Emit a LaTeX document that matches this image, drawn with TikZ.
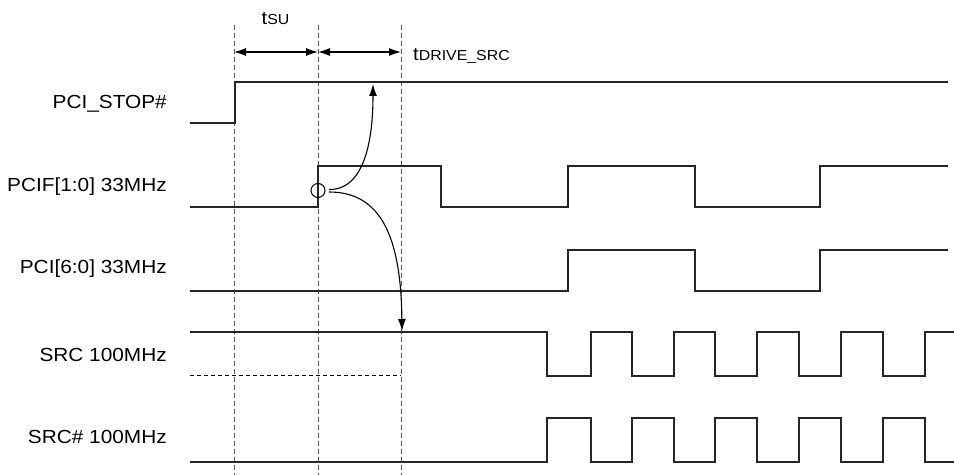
\documentclass[tikz,border=0pt]{standalone}
\usepackage{fontspec}
\setmainfont{Liberation Sans}
\usetikzlibrary{arrows.meta}
\newcommand{\wide}[1]{\scalebox{1.1}[1]{#1}}
\newcommand{\tsub}[1]{\wide{t{\fontsize{14.5}{16}\selectfont #1}}}

\tikzset{
  sig/.style={line width=1.1bp, black!85},
  guide/.style={line width=1bp, black!65, dash pattern=on 5bp off 3bp},
  lbl/.style={anchor=base east, inner sep=0pt, font=\fontsize{19}{21}\selectfont},
  tlbl/.style={anchor=base west, inner sep=0pt, font=\fontsize{18.5}{20}\selectfont},
  span/.style={line width=1.1bp, {Latex[length=12bp,width=8bp]}-{Latex[length=12bp,width=8bp]}},
  hint/.style={line width=1.1bp, -{Latex[length=12bp,width=8bp]}},
}

\begin{document}
\begin{tikzpicture}[x=1bp,y=-1bp]
	\useasboundingbox (0,0) rectangle (954,475);

	% signal names
	\node [lbl](STOP) at (167,109) {\wide{PCI\_STOP\#}};
	\node [lbl](PCIF) at (167,191.5) {\wide{PCIF[1:0] 33MHz}};
	\node [lbl](PCI) at (167,274) {\wide{PCI[6:0] 33MHz}};
	\node [lbl](SRC) at (167,361.5) {\wide{SRC 100MHz}};
	\node [lbl](SRCN) at (167,443) {\wide{SRC\# 100MHz}};

	% timing names
	\node [tlbl](TSU) at (261.5,25) {\tsub{SU}};
	\node [tlbl](TDRV) at (413,61) {\tsub{DRIVE\_SRC}};

	% guide lines
	\coordinate (G1) at (234,25);
	\coordinate (G2) at (318,25);
	\coordinate (G3) at (401,25);
	\draw [guide] (G1) -- (234,475);
	\draw [guide] (G2) -- (318,475);
	\draw [guide] (G3) -- (401,475);

	% waveforms
	\draw [sig] (190,123) -- (235,123) -- (235,82) -- (948,82);
	\draw [sig] (190,207) -- (318,207) -- (318,166) -- (441,166) -- (441,207)
		-- (568,207) -- (568,166) -- (695,166) -- (695,207) -- (820,207) -- (820,166) -- (948,166);
	\draw [sig] (190,291) -- (568,291) -- (568,250) -- (695,250) -- (695,291)
		-- (820,291) -- (820,250) -- (948,250);
	\draw [sig] (190,332) -- (547,332) -- (547,376) -- (591,376) -- (591,332)
		-- (632,332) -- (632,376) -- (674,376) -- (674,332) -- (715,332) -- (715,376)
		-- (757,376) -- (757,332) -- (799,332) -- (799,376) -- (841,376) -- (841,332)
		-- (883,332) -- (883,376) -- (925,376) -- (925,332) -- (954,332);
	\draw [sig] (190,462) -- (547,462) -- (547,418) -- (591,418) -- (591,462)
		-- (632,462) -- (632,418) -- (674,418) -- (674,462) -- (715,462) -- (715,418)
		-- (757,418) -- (757,462) -- (799,462) -- (799,418) -- (841,418) -- (841,462)
		-- (883,462) -- (883,418) -- (925,418) -- (925,462) -- (954,462);
	\draw [line width=1bp, dash pattern=on 4bp off 3bp] (190,376) -- (401,376);

	% interval arrows
	\coordinate (A1) at (234,52);
	\coordinate (A2) at (318,52);
	\coordinate (A3) at (401,52);
	\draw [span] (A1) -- (A2);
	\draw [span] (A2) -- (A3);

	% cause and effect
	\node [draw, circle, line width=1bp, minimum size=14bp, inner sep=0pt](RING) at (318,190.5) {};
	\coordinate (UP0) at (329,189.5);
	\coordinate (DN0) at (329,192);
	\coordinate (UP) at (373,84);
	\coordinate (DN) at (402,331);
	\draw [hint] (UP0) .. controls (368,190) and (373,130) .. (UP);
	\draw [hint] (DN0) .. controls (380,192) and (401,235) .. (DN);
\end{tikzpicture}
\end{document}
